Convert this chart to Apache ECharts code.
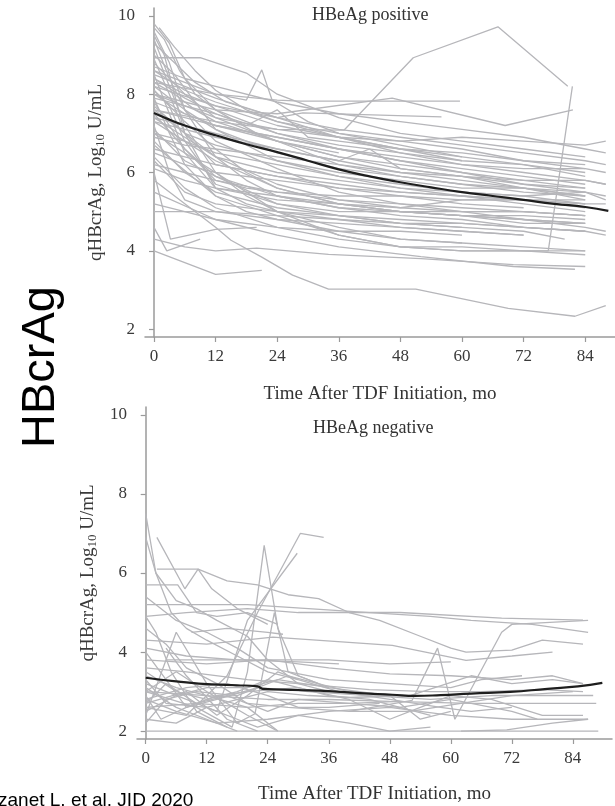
<!DOCTYPE html>
<html>
<head>
<meta charset="utf-8">
<script src="https://cdn.jsdelivr.net/npm/echarts@6/dist/echarts.min.js"></script>
<style>
html,body{margin:0;padding:0;background:#fff;}
#chart{width:615px;height:806px;}
</style>
</head>
<body>
<div id="chart"></div>
<script>
// ---------- data ----------
const xTicks = [0, 12, 24, 36, 48, 60, 72, 84];
const yTicks = [2, 4, 6, 8, 10];
const titlePos = 'HBeAg positive';
const titleNeg = 'HBeAg negative';
const xName = 'Time After TDF Initiation, mo';

// HBeAg positive: individual patient trajectories [month, log10 U/mL]
const posLines = [
  [[0,9.8],[3,9.3],[6,8.4],[12,7.6],[24,7.0],[36,6.6],[48,6.3],[60,6.0],[72,5.8],[84,5.6]],
  [[0,9.6],[3,8.8],[6,7.6],[12,6.4],[18,5.8],[24,5.4],[36,5.1],[48,4.9],[60,4.8],[72,4.6],[84,4.5]],
  [[0,9.5],[2,9.0],[6,7.0],[12,5.6],[18,5.2],[24,5.0],[36,4.8],[48,4.6],[60,4.5],[72,4.4]],
  [[1,9.7],[4,9.2],[8,8.6],[12,8.1],[18,7.6],[24,7.3],[36,7.0],[48,6.8],[60,6.6],[72,6.3],[84,6.1],[88,6.0]],
  [[0,9.2],[3,8.2],[6,7.2],[12,6.0],[18,5.4],[24,5.0],[36,4.6],[48,4.3],[60,4.2],[72,4.1],[84,4.0]],
  [[0,8.93],[9,8.93],[18,8.54],[24,8.0],[36,7.4],[48,7.0],[60,6.8],[72,6.6],[84,6.4]],
  [[0,8.6],[6,8.3],[12,8.0],[18,7.85],[21,8.62],[23,7.85],[30,7.3],[36,7.0],[48,6.7],[60,6.4]],
  [[0,8.5],[6,8.2],[12,7.9],[24,7.4],[36,7.1],[48,6.9],[60,6.7],[72,6.5],[84,6.3],[88,6.2]],
  [[0,8.4],[6,7.9],[12,7.5],[24,7.0],[36,6.7],[48,6.5],[60,6.3],[72,6.2],[84,6.0]],
  [[0,8.3],[12,8.0],[24,7.85],[28.5,7.82],[59.6,7.82]],
  [[0,8.2],[6,7.6],[12,7.1],[24,6.5],[36,6.1],[48,5.9],[60,5.7],[72,5.5],[84,5.4]],
  [[0,8.1],[6,7.3],[12,6.6],[18,6.0],[24,5.6],[36,5.2],[48,5.0],[60,4.9],[72,4.8],[84,4.7]],
  [[0,8.0],[6,7.7],[12,7.4],[24,7.1],[36,6.9],[48,6.6],[60,6.4],[72,6.2],[84,5.9]],
  [[0,7.9],[3,7.0],[6,6.2],[12,5.4],[18,5.0],[24,4.8],[36,4.5],[48,4.3],[60,4.2]],
  [[0,7.8],[6,7.5],[12,7.2],[24,6.8],[36,6.4],[48,6.1],[60,5.9],[72,5.7],[84,5.5],[88,5.4]],
  [[0,7.7],[6,7.0],[12,6.4],[24,5.7],[36,5.3],[48,5.1],[60,5.0],[72,5.0],[84,4.9]],
  [[0,7.6],[6,7.4],[12,7.2],[24,6.9],[36,6.6],[48,6.3],[60,6.1],[72,5.9],[84,5.7]],
  [[0,7.5],[6,6.6],[12,5.9],[24,5.2],[36,4.9],[48,4.7],[60,4.6]],
  [[0,7.4],[6,7.2],[12,7.0],[24,6.6],[36,6.3],[48,6.0],[60,5.8],[72,5.6],[84,5.3]],
  [[0,7.3],[6,6.8],[12,6.3],[24,5.6],[36,5.2],[48,5.0],[60,4.9],[72,4.9],[84,4.8]],
  [[0,7.2],[3,6.0],[6,5.3],[12,5.0],[24,4.8],[36,4.7],[48,4.6],[60,4.5],[72,4.4]],
  [[0,7.0],[6,6.8],[12,6.5],[24,6.2],[36,5.9],[48,5.7],[60,5.5],[72,5.4],[84,5.2]],
  [[0,6.8],[6,6.0],[12,5.5],[24,5.1],[36,4.9],[48,4.8],[60,4.7],[72,4.6],[84,4.5],[88,4.4]],
  [[0,6.6],[6,6.4],[12,6.2],[24,5.9],[36,5.6],[48,5.4],[60,5.2],[72,5.1]],
  [[0,6.4],[6,5.6],[12,5.1],[24,4.6],[36,4.3],[48,4.1],[60,4.0],[72,4.0],[84,3.9]],
  [[0,6.2],[6,6.0],[12,5.8],[24,5.5],[36,5.3],[48,5.2],[60,5.1],[72,5.0],[84,4.9]],
  [[0,5.8],[6,5.2],[12,4.6],[15,4.27],[21,3.84],[27,3.38],[34,3.02],[51,3.02],[69,2.53],[82,2.33],[88,2.6]],
  [[0,5.0],[8,5.0],[12,5.0],[24,4.9],[36,4.8],[48,4.7],[60,4.7],[72,4.6],[84,4.5]],
  [[0,4.6],[2.5,4.0],[9,4.3]],
  [[0,4.0],[12,3.4],[21,3.5]],
  [[0,6.0],[3.2,4.3],[12,4.55],[20,4.6]],
  [[0,8.7],[6,8.4],[12,8.2],[24,7.8],[36,7.5],[48,7.3],[60,7.1],[72,6.9],[84,6.6],[88,6.5]],
  [[0,8.2],[12,7.7],[24,7.4],[29,7.52],[56,7.42]],
  [[0,7.6],[12,7.3],[24,7.1],[37,7.08],[50.5,8.93],[67,9.72],[80.6,8.2]],
  [[0,7.0],[12,6.0],[24,5.0],[36,4.4],[48,4.1],[60,4.0],[76.8,4.0],[81.5,8.2]],
  [[0,8.0],[6,7.8],[12,7.6],[24,7.5],[46.4,7.9],[68.4,7.2],[81.6,7.6]],
  [[0,4.3],[6,4.1],[12,4.0],[20,4.07],[34,3.91],[52,3.8],[70,3.65],[84,3.6]],
  [[0,5.5],[12,4.8],[24,4.4],[36,4.1],[52,3.85],[70,3.6],[82,3.53]],
  [[0,9.0],[4,8.5],[8,7.8],[12,7.1],[24,6.3],[36,5.9],[48,5.6],[60,5.4],[72,5.2],[84,5.0]],
  [[0,8.8],[6,8.0],[12,7.4],[24,6.8],[36,6.4],[48,6.2],[60,6.0],[72,5.7],[84,5.6]],
  [[0,8.1],[3,7.7],[6,6.8],[12,5.7],[24,5.2],[36,5.0],[48,5.0],[60,5.0],[72,5.0],[84,4.9]],
  [[0,7.1],[6,6.3],[12,5.9],[24,5.4],[36,5.1],[48,5.0],[60,4.9],[72,4.8],[84,4.6],[88,4.5]],
  [[0,6.9],[6,6.7],[12,6.6],[24,6.4],[36,6.2],[48,6.0],[60,5.9],[72,5.8],[84,5.8],[88,5.7]],
  [[0,8.5],[3,7.5],[6,6.5],[12,5.6],[24,5.3],[36,5.2],[48,5.1],[60,5.3],[72,5.3],[84,5.2]],
  [[0,9.3],[4,8.8],[8,8.3],[14,7.8],[24,7.4],[36,6.9],[48,6.5],[60,6.2],[72,6.1],[84,6.1]],
  [[0,7.9],[6,7.7],[12,7.5],[18,7.2],[24,7.6],[30,6.9],[36,6.8],[48,6.6],[60,6.5],[72,6.3],[84,6.2]],
  [[0,6.5],[6,6.2],[12,6.0],[24,5.8],[36,5.6],[48,5.5],[60,5.4],[72,5.3],[84,5.2],[88,5.2]],
  [[0,7.3],[6,7.1],[12,6.9],[24,6.6],[36,6.3],[42,6.6],[48,6.1],[60,5.9],[72,5.6],[84,5.4]],
  [[0,8.6],[6,8.1],[12,7.8],[24,7.3],[36,6.9],[48,6.6],[60,6.3]],
  [[0,7.8],[6,6.6],[12,5.8],[18,5.6],[24,5.5],[36,5.4],[48,5.4],[60,5.3],[72,5.3],[84,5.3]],
  [[0,6.1],[6,5.8],[12,5.6],[24,5.4],[36,5.2],[48,5.0],[60,4.9],[72,4.7],[84,4.7]],
  [[0,8.9],[3,8.0],[6,7.0],[12,6.2],[24,5.9],[36,5.7],[48,5.5],[60,5.4],[72,5.3],[84,5.1]],
  [[0,7.6],[6,7.0],[12,6.7],[24,6.3],[36,6.0],[48,5.8],[60,5.6],[72,5.6],[84,5.5]],
  [[0,8.3],[4,8.0],[8,7.6],[12,7.3],[24,6.8],[36,6.5]],
  [[0,9.7],[2,9.4],[5,8.6],[8,8.0],[12,7.6],[20,7.0],[28,6.6],[36,6.2],[48,5.9],[60,5.7],[72,5.6],[84,5.4]],
  [[0,5.2],[6,5.0],[12,4.8],[24,4.6],[36,4.5],[48,4.5],[60,4.4]],
  [[0,6.7],[12,5.4],[24,4.9],[36,4.4],[48,4.1],[60,4.1],[72,4.0],[84,4.0]],
  [[0,7.4],[6,6.9],[12,6.4],[24,6.0],[36,5.8],[48,5.6],[60,5.5],[72,5.4],[84,5.5],[88,5.3]],
  [[0,8.0],[6,7.5],[12,7.2],[24,6.9],[36,6.6],[48,6.4],[60,6.2],[72,6.0],[84,5.8],[88,5.7]],
  [[0,8.4],[6,8.0],[12,7.7],[24,7.2],[36,6.9],[48,6.8],[60,6.9],[72,6.8],[84,6.7],[88,6.8]],
  [[0,6.3],[6,5.5],[12,5.2],[24,5.0],[36,4.9],[48,4.7],[60,4.6],[72,4.5],[80,4.3]],
  [[0,9.4],[3,8.4],[6,7.6],[12,6.8],[24,6.1],[36,5.5],[48,5.2],[60,5.0],[72,4.8],[84,4.7]]
];

// HBeAg negative: individual patient trajectories
const negLines = [
  [[0,7.5],[2,6.0],[5,5.0],[8,4.6],[12,4.3],[18,3.9],[24,3.5],[30,3.3]],
  [[0,6.9],[2,6.0],[6,5.3],[10,5.1],[14,4.8],[20,4.4],[24,3.8],[30,3.2],[36,3.0]],
  [[2.2,6.9],[7.7,5.6],[10.3,6.1],[16,5.8],[22,5.7],[28,5.45],[34,5.35],[40,5.0],[46,4.8],[54,4.4],[60,4.1],[63,4.0],[72,4.05],[78,4.3],[86,4.2]],
  [[0,5.7],[6.3,5.7],[10,5.0],[14,4.9],[20,5.0],[26,4.7]],
  [[2.2,6.1],[10.3,6.1],[13,5.6],[18,5.1],[24,4.7]],
  [[0,5.2],[8,5.2],[20,5.2],[32,5.1],[44,5.0],[56,4.9],[64,4.8],[76,4.7],[87,4.5]],
  [[0,4.9],[8,5.0],[20,5.1],[30,5.0],[50,5.0],[70,4.86],[86,4.81]],
  [[0,3.0],[10,2.6],[17,2.1],[20,3.5],[23.3,6.7],[26,4.6],[30,3.4],[36,3.1]],
  [[0,2.6],[8,2.4],[16,3.4],[22,5.0],[30.4,7.0],[35,6.9]],
  [[0,3.2],[8,2.8],[14,2.5],[20,4.8],[29.8,6.5]],
  [[0,2.4],[6,4.5],[12,3.2],[18,2.2],[21.5,2.44],[25.3,5.0],[28,3.5],[34,3.2]],
  [[40,2.5],[52.4,2.78],[57.4,4.1],[60.8,2.3],[70,4.5],[72,4.7],[87,4.8]],
  [[0,4.3],[12,4.2],[25,4.38],[48.5,4.17],[63,3.79],[72,3.9],[80,4.0]],
  [[0,2.0],[12,2.0],[36,2.0],[60,2.0],[89,2.0]],
  [[0,3.0],[12,2.9],[24,2.8],[36,2.8],[48,2.75],[64,2.7],[88.6,2.7]],
  [[0,2.8],[6,2.5],[14,2.2],[24,2.3],[36,2.5],[48,2.6],[60,2.4],[72,2.3],[87,2.3]],
  [[0,3.6],[8,3.5],[20,3.3],[30,3.2],[44,3.05],[56,3.0],[66,3.0],[78,3.05],[86,3.0]],
  [[0,3.8],[12,3.7],[24,3.8],[36,3.6],[48,3.45],[60,3.4],[72,3.3],[80,3.4],[86,3.2]],
  [[0,4.1],[8,3.9],[18,3.8],[36,3.8],[48,3.7],[60,3.75]],
  [[0,2.7],[4,3.2],[10,2.7],[16,2.9],[24,2.5],[30,2.8],[40,2.7],[50,2.6],[60,2.8],[72,2.5],[77,2.3]],
  [[0,2.5],[6,2.9],[12,3.1],[20,3.1],[26,3.3],[36,3.1],[48,2.9],[54,2.3],[60,2.5]],
  [[0,3.1],[6,2.6],[12,2.3],[18,2.0]],
  [[0,2.2],[4,2.8],[10,3.0],[18,2.9],[28,3.4],[40,3.0],[50,2.9]],
  [[0,3.4],[6,3.1],[12,2.9],[20,2.6],[26,2.0]],
  [[0,2.9],[3,2.3],[8,2.6],[14,2.8],[22,3.1],[32,3.0],[44,2.9],[56,2.8],[68,2.9],[80,2.9],[88,2.9]],
  [[0,4.6],[4,4.2],[8,3.6],[14,3.2],[20,2.7],[28,2.6],[40,2.5],[52,2.5],[62,2.7],[72,2.9],[84,3.0]],
  [[0,5.4],[6,4.8],[12,4.5],[18,4.1],[24,3.6],[36,3.3],[48,3.2],[60,3.1],[66,3.3],[74,3.4]],
  [[0,2.3],[6,2.2],[12,2.6],[18,2.3],[22,2.1],[30,2.4],[40,2.2],[48,2.0],[56,2.1]],
  [[0,3.3],[4,2.7],[12,2.6],[24,3.0],[32,2.9],[40,2.85],[52,2.9],[64,3.4],[72,3.2],[80,3.3],[86,3.2]],
  [[4,3.8],[8,3.8],[18,3.8],[30,3.75],[38,3.7]],
  [[9,4.5],[16,4.6],[24,4.5],[27,4.45]],
  [[0,2.6],[10,2.7],[20,2.6],[30,2.7],[40,2.7],[50,2.75]],
  [[0,3.0],[6,3.5],[12,3.0],[20,2.4],[26,2.0]],
  [[0,4.9],[2,4.5],[5,3.5],[10,2.5],[16,2.1]],
  [[0,4.0],[4,3.3],[8,2.6],[14,2.9],[20,3.0],[30,3.1],[40,2.8],[48,2.3],[54,2.6],[60,2.9],[68,2.8],[78,2.4],[86,2.4]],
  [[62,2.0],[71,2.03],[80,2.2],[87,2.3]],
  [[4,4.1],[8,3.4],[16,2.3],[22,2.0]],
  [[0,2.7],[8,3.0],[14,2.4],[20,2.9],[26,3.5],[30,3.3],[38,3.0],[48,2.8],[58,2.6],[64,2.5],[72,2.6]],
  [[0,3.5],[6,3.0],[12,2.8],[18,3.0],[24,3.3],[30,3.1],[36,2.9],[44,2.8],[50,2.6],[56,2.4]],
  [[0,2.8],[8,3.1],[16,3.2],[24,2.9],[30,2.6],[36,2.6],[46,2.7]]
];

// fitted mean curves
const posMean = [[0,7.52],[3,7.35],[6,7.2],[9,7.07],[12,6.95],[18,6.72],[24,6.52],[30,6.3],[36,6.08],[42,5.9],[48,5.75],[54,5.62],[60,5.5],[66,5.4],[72,5.3],[78,5.2],[84,5.12],[88.5,5.02]];
const negMean = [[0,3.35],[6,3.26],[13,3.18],[18,3.16],[22,3.13],[23,3.07],[30,3.04],[36,3.01],[42,2.96],[48.5,2.92],[53,2.89],[58,2.91],[64,2.95],[71.7,2.99],[79,3.07],[85,3.13],[89.8,3.22]];

// ---------- chart ----------
const serif = '"Liberation Serif", "DejaVu Serif", serif';
const axisColor = '#9a9a9a';
const textColor = '#3a3a3a';
const grayLine = '#b6b6ba';

function xAxisDef(gi, min, max) {
  return {
    type: 'value', gridIndex: gi, min: min, max: max,
    axisLine: { show: true, lineStyle: { color: axisColor, width: 1.5 } },
    axisTick: { show: true, length: 5, lineStyle: { color: axisColor, width: 1.2 }, customValues: xTicks },
    axisLabel: { color: textColor, fontFamily: serif, fontSize: 17, margin: 11, customValues: xTicks },
    splitLine: { show: false }
  };
}
function yAxisDef(gi) {
  return {
    type: 'value', gridIndex: gi, min: 1.8, max: 10.2,
    axisLine: { show: true, lineStyle: { color: axisColor, width: 1.5 } },
    axisTick: { show: true, length: 5, lineStyle: { color: axisColor, width: 1.2 }, customValues: yTicks },
    axisLabel: { color: textColor, fontFamily: serif, fontSize: 17, margin: 10, customValues: yTicks },
    splitLine: { show: false },
    name: '{a|qHBcrAg, Log}{b|10}{a| U/mL}',
    nameLocation: 'middle', nameGap: 37, nameRotate: 90,
    nameTextStyle: {
      color: textColor,
      rich: {
        a: { fontFamily: serif, fontSize: 19, color: textColor, lineHeight: 22 },
        b: { fontFamily: serif, fontSize: 13, color: textColor, lineHeight: 22, padding: [9, 0, 0, 0] }
      }
    }
  };
}

const series = [];
posLines.forEach(function (d) {
  series.push({ type: 'line', xAxisIndex: 0, yAxisIndex: 0, data: d, symbol: 'none', silent: true,
    lineStyle: { color: grayLine, width: 1.3 }, z: 2 });
});
negLines.forEach(function (d) {
  series.push({ type: 'line', xAxisIndex: 1, yAxisIndex: 1, data: d, symbol: 'none', silent: true,
    lineStyle: { color: grayLine, width: 1.3 }, z: 2 });
});
series.push({ type: 'line', xAxisIndex: 0, yAxisIndex: 0, data: posMean, symbol: 'none', smooth: true, silent: true,
  lineStyle: { color: '#1e1e1e', width: 2.2 }, z: 5 });
series.push({ type: 'line', xAxisIndex: 1, yAxisIndex: 1, data: negMean, symbol: 'none', smooth: true, silent: true,
  lineStyle: { color: '#1e1e1e', width: 2.2 }, z: 5 });

const chart = echarts.init(document.getElementById('chart'), null, { renderer: 'canvas' });
chart.setOption({
  animation: false,
  backgroundColor: '#fff',
  grid: [
    { left: 145, top: 8, width: 470, height: 329 },
    { left: 137, top: 407, width: 475, height: 332 }
  ],
  xAxis: [xAxisDef(0, -1.75, 89.8), xAxisDef(1, -1.71, 91.7)],
  yAxis: [yAxisDef(0), yAxisDef(1)],
  series: series,
  graphic: [
    { type: 'text', left: 312, top: 6, style: { text: titlePos, fontFamily: serif, fontSize: 18, fill: '#333' } },
    { type: 'text', left: 313, top: 419, style: { text: titleNeg, fontFamily: serif, fontSize: 18, fill: '#333' } },
    { type: 'text', x: 380, y: 394, style: { text: xName, fontFamily: serif, fontSize: 19, fill: '#333', align: 'center', verticalAlign: 'middle' } },
    { type: 'text', x: 374.5, y: 794, style: { text: xName, fontFamily: serif, fontSize: 19, fill: '#333', align: 'center', verticalAlign: 'middle' } },
    { type: 'text', x: 41, y: 367, rotation: Math.PI / 2, style: { text: 'HBcrAg', fontFamily: '"Liberation Sans", Arial, sans-serif', fontSize: 47, fill: '#000', align: 'center', verticalAlign: 'middle' } },
    { type: 'text', x: -2, y: 810, style: { text: 'zanet L, et al. JID 2020', fontFamily: '"Liberation Sans", Arial, sans-serif', fontSize: 19, fill: '#000', align: 'left', verticalAlign: 'bottom' } }
  ]
});
</script>
</body>
</html>
